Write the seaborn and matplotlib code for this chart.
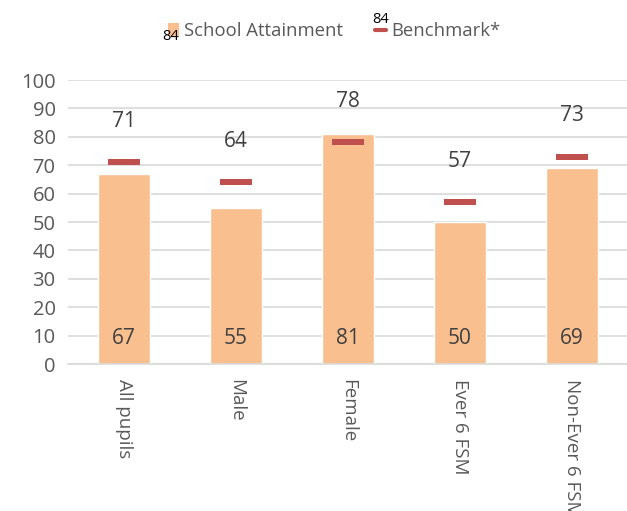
import numpy as np
import pandas as pd
import matplotlib
matplotlib.use('Agg')
import matplotlib.pyplot as plt
import seaborn as sns
from matplotlib.patches import Patch
from matplotlib.lines import Line2D

# chart data
categories = ['All pupils', 'Male', 'Female', 'Ever 6 FSM', 'Non-Ever 6 FSM']
school_attainment = [67, 55, 81, 50, 69]
benchmark = [71, 64, 78, 57, 73]
y_ticks = [0, 10, 20, 30, 40, 50, 60, 70, 80, 90, 100]

bar_color = '#F9BF8F'
mark_color = '#C0504D'
text_color = '#404040'
tick_color = '#595959'
grid_color = '#D9D9D9'

sns.set_style('white')
plt.rcParams['font.family'] = ['Open Sans', 'DejaVu Sans']

df = pd.DataFrame({'category': categories,
                   'attainment': school_attainment,
                   'benchmark': benchmark})

fig = plt.figure(figsize=(6.27, 5.11), dpi=100)
ax = fig.add_axes([68 / 627, 1 - 364 / 511, 560 / 627, 284 / 511])

sns.barplot(data=df, x='category', y='attainment', color=bar_color,
            width=0.46, saturation=1, ax=ax, zorder=2)

# benchmark markers: flat rectangles
rect = [(-2.4, -0.5), (2.4, -0.5), (2.4, 0.5), (-2.4, 0.5), (-2.4, -0.5)]
sns.scatterplot(data=df, x='category', y='benchmark', marker=rect, s=560,
                color=mark_color, linewidth=0, ax=ax, zorder=3, legend=False)

# data labels
for i, (a, b) in enumerate(zip(school_attainment, benchmark)):
    ax.annotate(str(b), (i, b), xytext=(0, 29.5), textcoords='offset points',
                ha='center', va='center', fontsize=15, color=text_color)
    ax.annotate(str(a), (i, 0), xytext=(0, 18.5), textcoords='offset points',
                ha='center', va='center', fontsize=15, color=text_color)

ax.set_ylim(0, 100)
ax.set_xlim(-0.5, len(categories) - 0.5)
ax.set_yticks(y_ticks)
ax.set_yticklabels([str(t) for t in y_ticks], fontsize=14.5, color=tick_color)
ax.yaxis.grid(True, color=grid_color, linewidth=1.2, zorder=0)
ax.set_axisbelow(True)
ax.set_xlabel('')
ax.set_ylabel('')
ax.tick_params(axis='both', length=0)
ax.tick_params(axis='y', pad=9)
ax.tick_params(axis='x', pad=11)
# the last label runs off the bottom edge, as in the original
plt.setp(ax.get_xticklabels(), rotation=-90, fontsize=13.5, color=tick_color,
         va='top', ha='center')
for side in ['top', 'left', 'right']:
    ax.spines[side].set_visible(False)
ax.spines['bottom'].set_color(grid_color)
ax.spines['bottom'].set_linewidth(1.2)

# legend
handles = [Patch(facecolor=bar_color, edgecolor='none', label='School Attainment'),
           Line2D([], [], color=mark_color, linewidth=3, label='Benchmark*')]
leg = fig.legend(handles=handles, loc='center', bbox_to_anchor=(0.533, 1 - 31 / 511),
                 ncol=2, frameon=False, fontsize=13.3, handlelength=0.6,
                 handleheight=0.65, handletextpad=0.3, columnspacing=1.7)
for t in leg.get_texts():
    t.set_color(tick_color)
fig.text(162 / 627, 1 - 36 / 511, '84', fontsize=10.5, color='black',
         va='center', zorder=10)
fig.text(372 / 627, 1 - 19 / 511, '84', fontsize=10.5, color='black',
         va='center', zorder=10)

fig.savefig('out.png', dpi=100)
